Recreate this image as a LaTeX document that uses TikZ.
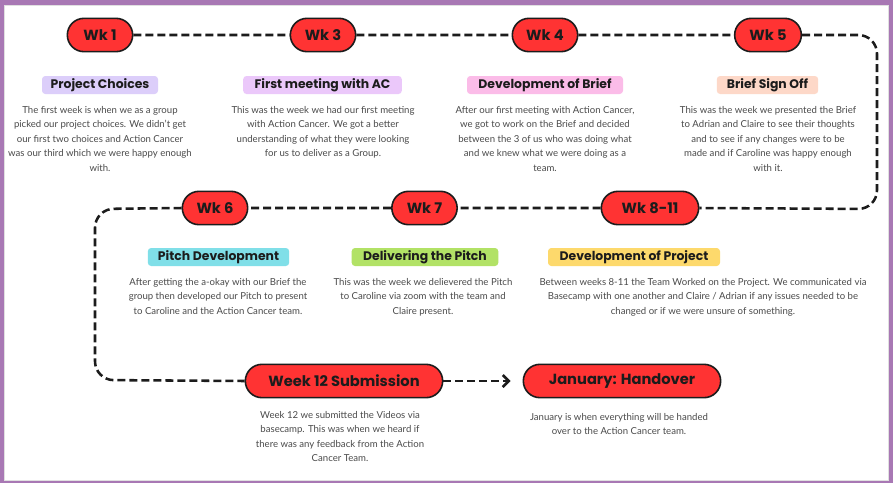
\documentclass[tikz,border=0pt]{standalone}
\usepackage{fontspec}
\setmainfont{Lato}
\newfontfamily\headfont{Poppins}
\usetikzlibrary{arrows.meta,shapes.misc}

\definecolor{framepurple}{HTML}{A878B4}
\definecolor{pillred}{HTML}{FF3333}
\definecolor{inkdark}{HTML}{1C1C1C}
\definecolor{bodygray}{HTML}{4A4A4A}
\definecolor{tagA}{HTML}{DCCEFA}
\definecolor{tagB}{HTML}{EBC8FA}
\definecolor{tagC}{HTML}{FBBCE8}
\definecolor{tagD}{HTML}{FDD8C8}
\definecolor{tagE}{HTML}{80DFE8}
\definecolor{tagF}{HTML}{B2E266}
\definecolor{tagG}{HTML}{FDD96C}

\begin{document}
\begin{tikzpicture}[x=0.75pt,y=-0.75pt,
  pill/.style={rounded rectangle, draw=inkdark, line width=1.2pt, fill=pillred,
    minimum height=25pt, inner sep=0pt, text=inkdark,
    font=\headfont\bfseries\fontsize{11}{12}\selectfont},
  tag/.style={rounded corners=2.5pt, fill=#1, minimum height=13.5pt, inner sep=0pt,
    text=inkdark, font=\headfont\bfseries\fontsize{9.3}{10}\selectfont},
  body/.style={align=center, text=bodygray, inner sep=0pt, anchor=north,
    font=\fontsize{7.2}{10.9}\selectfont},
  trail/.style={draw=inkdark, line width=1.9pt, dash pattern=on 6pt off 3pt}
]
% page and frame
\useasboundingbox (0,0) rectangle (894,483);
\fill[white] (0,0) rectangle (894,483);
\fill[framepurple] (0,0) rectangle (893,483);
\fill[white] (4.8,5) rectangle (888.5,480.5);
\draw[black!12, line width=0.5pt] (4.8,5) rectangle (888.5,480.5);

% milestone pills
\node[pill, minimum width=49pt] (w1) at (100,35) {Wk 1};
\node[pill, minimum width=49pt] (w3) at (323,35) {Wk 3};
\node[pill, minimum width=49pt] (w4) at (545,35) {Wk 4};
\node[pill, minimum width=50pt] (w5) at (768,35) {Wk 5};
\node[pill, minimum width=49pt] (w6) at (215,208) {Wk 6};
\node[pill, minimum width=49pt] (w7) at (424.5,208) {Wk 7};
\node[pill, minimum width=73pt] (w8) at (650,208) {Wk 8-11};
\node[pill, minimum width=148pt] (w12) at (344,381) {Week 12 Submission};
\node[pill, minimum width=148pt] (jan) at (622,381) {January: Handover};

% corners of the winding trail
\coordinate (tr) at (877,35);
\coordinate (br) at (877,209);
\coordinate (tl) at (95,209);
\coordinate (bl) at (95,380);

% trail between milestones
\draw[trail] (w1) -- (w3);
\draw[trail] (w3) -- (w4);
\draw[trail] (w4) -- (w5);
\draw[trail, rounded corners=14pt] (w5.east) -- (tr) -- (br) -- (w8.east);
\draw[trail] (w8) -- (w7);
\draw[trail] (w7) -- (w6);
\draw[trail, rounded corners=14pt] (w6.west) -- (tl) -- (bl) -- (w12.west);
\draw[trail, -{Straight Barb[length=4.5pt,width=9pt,line width=1.9pt]}, shorten >=9pt] (w12.east) -- (jan.west);

% topic tags
\node[tag=tagA, minimum width=87pt] (t1) at (100,85) {Project Choices};
\node[tag=tagB, minimum width=119pt] (t3) at (322.5,85) {First meeting with AC};
\node[tag=tagC, minimum width=117pt] (t4) at (545,85) {Development of Brief};
\node[tag=tagD, minimum width=76pt] (t5) at (767.5,85) {Brief Sign Off};
\node[tag=tagE, minimum width=106pt] (t6) at (218.5,257) {Pitch Development};
\node[tag=tagF, minimum width=110pt] (t7) at (425,257) {Delivering the Pitch};
\node[tag=tagG, minimum width=129pt] (t8) at (634,257) {Development of Project};

% descriptions
\node[body] (d1) at (100,106) {The first week is when we as a group\\picked our project choices. We didn’t get\\our first two choices and Action Cancer\\was our third which we were happy enough\\with.};
\node[body] (d3) at (323,106) {This was the week we had our first meeting\\with Action Cancer. We got a better\\understanding of what they were looking\\for us to deliver as a Group.};
\node[body] (d4) at (545,106) {After our first meeting with Action Cancer,\\we got to work on the Brief and decided\\between the 3 of us who was doing what\\and we knew what we were doing as a\\team.};
\node[body] (d5) at (768,106) {This was the week we presented the Brief\\to Adrian and Claire to see their thoughts\\and to see if any changes were to be\\made and if Caroline was happy enough\\with it.};
\node[body] (d6) at (218,278) {After getting the a-okay with our Brief the\\group then developed our Pitch to present\\to Caroline and the Action Cancer team.};
\node[body] (d7) at (423,278) {This was the week we delievered the Pitch\\to Caroline via zoom with the team and\\Claire present.};
\node[body] (d8) at (703,278) {Between weeks 8-11 the Team Worked on the Project. We communicated via\\Basecamp with one another and Claire / Adrian if any issues needed to be\\changed or if we were unsure of something.};
\node[body] (d12) at (340,411) {Week 12 we submitted the Videos via\\basecamp. This was when we heard if\\there was any feedback from the Action\\Cancer Team.};
\node[body] (dj) at (619,413) {January is when everything will be handed\\over to the Action Cancer team.};
\end{tikzpicture}
\end{document}
